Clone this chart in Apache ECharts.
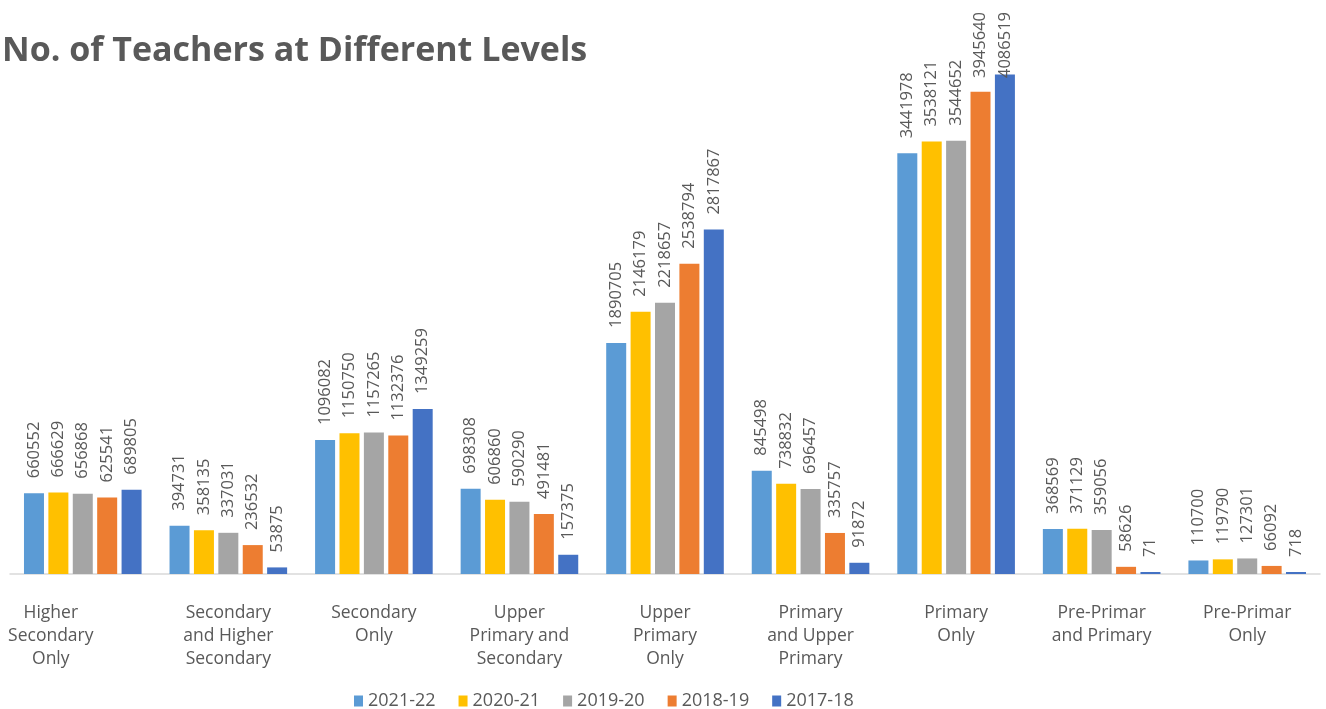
<!DOCTYPE html>
<html>
<head>
<meta charset="utf-8">
<script src="https://cdn.jsdelivr.net/npm/echarts@6/dist/echarts.min.js"></script>
<style>
  html, body { margin: 0; padding: 0; background: #fff; }
  #chart { width: 1326px; height: 709px; }
</style>
</head>
<body>
<div id="chart"></div>
<script>
// Teacher counts by school level, one series per academic year
const categories = [
  'Higher\nSecondary\nOnly',
  'Secondary\nand Higher\nSecondary',
  'Secondary\nOnly',
  'Upper\nPrimary and\nSecondary',
  'Upper\nPrimary\nOnly',
  'Primary\nand Upper\nPrimary',
  'Primary\nOnly',
  'Pre-Primar\nand Primary',
  'Pre-Primar\nOnly'
];
const years = ['2021-22', '2020-21', '2019-20', '2018-19', '2017-18'];
const y2021_22 = [660552, 394731, 1096082, 698308, 1890705, 845498, 3441978, 368569, 110700];
const y2020_21 = [666629, 358135, 1150750, 606860, 2146179, 738832, 3538121, 371129, 119790];
const y2019_20 = [656868, 337031, 1157265, 590290, 2218657, 696457, 3544652, 359056, 127301];
const y2018_19 = [625541, 236532, 1132376, 491481, 2538794, 335757, 3945640, 58626, 66092];
const y2017_18 = [689805, 53875, 1349259, 157375, 2817867, 91872, 4086519, 71, 718];

const seriesData = [y2021_22, y2020_21, y2019_20, y2018_19, y2017_18];
const colors = ['#5B9BD5', '#FFC000', '#A5A5A5', '#ED7D31', '#4472C4'];
const textColor = '#595959';
const fontFamily = '"Open Sans", "Noto Sans", sans-serif';
const labelTopLimit = 12; // value labels are kept inside the chart area

const chart = echarts.init(document.getElementById('chart'));

chart.setOption({
  animation: false,
  color: colors,
  textStyle: { fontFamily: fontFamily },
  title: {
    text: 'No. of Teachers at Different Levels',
    left: 2,
    top: 34,
    padding: 0,
    textStyle: { fontSize: 34, fontWeight: 'bold', color: textColor, fontFamily: fontFamily }
  },
  legend: {
    data: years,
    top: 692,
    left: 354,
    padding: 0,
    itemWidth: 9,
    itemHeight: 11,
    itemGap: 23,
    icon: 'rect',
    textStyle: { fontSize: 18, color: textColor, fontFamily: fontFamily }
  },
  grid: { left: 10, right: 6, top: 24, bottom: 135, containLabel: false },
  xAxis: {
    type: 'category',
    data: categories,
    axisLine: { lineStyle: { color: '#D9D9D9', width: 1.5 } },
    axisTick: { show: false },
    axisLabel: {
      interval: 0,
      margin: 28,
      color: textColor,
      fontSize: 17.5,
      lineHeight: 23,
      fontFamily: fontFamily,
      formatter: function (value, idx) {
        // the first category's label sits a little left of its bars
        if (idx === 0) {
          return value.split('\n').map(function (s) { return '{first|' + s + '}'; }).join('\n');
        }
        return value;
      },
      rich: {
        first: { padding: [0, 64, 0, 0], fontSize: 17.5, lineHeight: 23, color: textColor, fontFamily: fontFamily }
      }
    }
  },
  yAxis: {
    type: 'value',
    min: 0,
    max: 4500000,
    show: false,
    splitLine: { show: false }
  },
  series: seriesData.map(function (d, i) {
    return {
      name: years[i],
      type: 'bar',
      data: d,
      barWidth: 20,
      barGap: '22%',
      barMinHeight: 2,
      label: {
        show: true,
        position: 'top',
        rotate: 90,
        align: 'left',
        verticalAlign: 'middle',
        distance: 15,
        color: textColor,
        fontSize: 16.5,
        fontFamily: fontFamily
      },
      // labels are rotated, so a shift along the text direction moves them vertically
      labelLayout: function (params) {
        const r = params.labelRect;
        if (r && r.y < labelTopLimit) {
          return { dx: -(labelTopLimit - r.y) };
        }
        return {};
      }
    };
  })
});
</script>
</body>
</html>
